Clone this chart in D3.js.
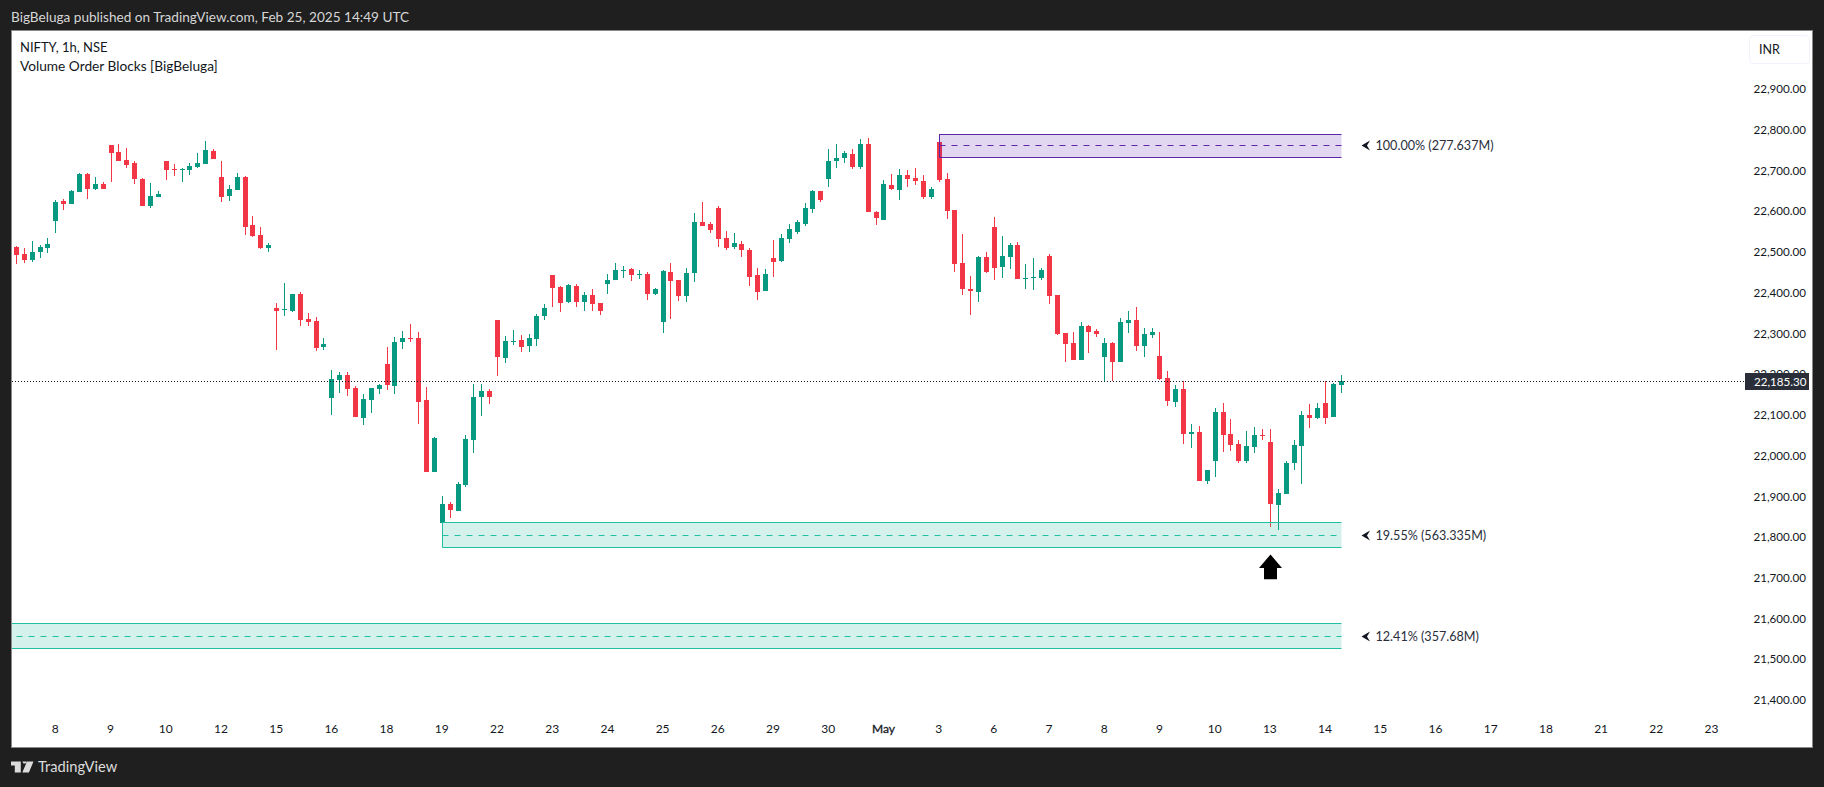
<!DOCTYPE html>
<html><head><meta charset="utf-8">
<script src="https://cdn.jsdelivr.net/npm/d3@7/dist/d3.min.js"></script>
<style>html,body{margin:0;padding:0;background:#1f1f1f;overflow:hidden}svg{display:block}text{font-family:Lato,"Open Sans",sans-serif}</style>
</head><body><svg id="c" width="1824" height="787"></svg>
<script>
const opens=[22515,22498,22483,22503,22513,22579,22628,22621,22650,22694,
22657,22670,22765,22748,22729,22721,22682,22616,22638,22726,
22706.5,22704,22704,22711,22719,22751,22687,22640,22655,22687,
22569,22544.5,22513,22365,22360,22358,22400,22338,22333,22270,
22144,22189,22201,22169,22095,22139.5,22166.5,22228,22174,22282,
22292,22292,22139.5,21963,21838,21884,21867,21931,22041,22147,
22162,22336,22243,22282,22287,22272,22289,22346,22446,22417,
22380,22419,22380,22397,22378,22424,22434,22456,22461,22446,
22449,22400,22331,22454,22434,22395,22451,22576,22571.5,22611,
22537,22515,22522,22508,22446,22407,22488,22481,22535,22552,
22571.5,22608,22652.5,22682,22726,22733.5,22743,22711,22768,22601,
22581,22667,22655,22692,22684,22677,22638,22773,22682,22606,
22476,22412,22405,22490.5,22564,22466,22490.5,22520,22436.5,22439,
22439,22493,22397,22304,22279,22238,22321,22309,22245,22279,
22233,22328.5,22336,22272,22299,22247.5,22193.4,22134.5,22166.5,22056,
22061,21940.6,21989.7,22110,22056,22031.5,21989.7,22024,22053.5,22036.4,
21881.7,21908.7,21984.8,22026.5,22102.6,22095.3,22132,22097.7,22176.3];
const highs=[22517.5,22513,22530,22520,22537,22630,22633,22655,22697,22697,
22687,22675,22765,22768,22758,22726,22684,22672,22652.5,22726,
22719,22709,22721,22746,22775,22756,22726,22667,22697,22689,
22591,22564,22525,22377.6,22427,22400,22405,22353,22343,22292,
22213,22208,22208,22174,22154,22169,22179,22270,22294,22309,
22326,22306,22171,22049,21904,21889,21938,22054,22179,22179,
22166.5,22336,22297,22311,22299,22301.5,22351,22375,22446,22419,
22424,22424,22405,22412,22378,22449,22476,22468,22463.5,22459,
22454,22414,22459,22476,22434,22463.5,22598.5,22625.5,22576,22616,
22554,22549,22530,22513,22463.5,22461,22532,22547,22571.5,22581,
22623,22655,22652.5,22755.6,22768,22751,22755.6,22780,22782.6,22603,
22679.5,22694,22706.5,22704,22709,22692,22662,22793,22697,22606,
22547,22444,22493,22503,22589,22542,22525,22527,22473,22488,
22463.5,22498,22397,22304,22306,22331,22323.5,22314,22291.6,22282,
22341,22358,22368,22316,22316,22306,22210.6,22176,22186,22080.5,
22075.6,21967.6,22119.8,22132,22092.8,22041.3,22063.4,22073,22068.3,22068.3,
21921,21989.7,22041.3,22112.5,22129.6,22132,22186,22181.2,22200.8];
const lows=[22473,22476,22478,22488,22500,22549,22606,22621,22650,22633,
22655,22657,22675,22726,22709,22670,22616,22611,22638,22679.5,
22689,22675,22692,22709,22719,22731,22625.5,22628,22655,22544.5,
22540,22510,22503,22263,22346.5,22355.5,22321,22321,22260,22262,
22103,22157,22149,22098,22078,22108,22154,22164,22154,22265,
22282,22081,21963,21963,21838,21850,21867,21926,22009,22100,
22130,22198,22230,22274.5,22257,22257,22272,22336,22368,22355.5,
22378,22368,22358,22358,22348,22400,22434,22439,22432,22436.5,
22385,22397,22304,22338,22382.5,22380,22429,22566.6,22549,22515,
22508,22510,22490.5,22419,22385,22407,22441,22478,22525,22547,
22566.6,22598.5,22625.5,22662,22709,22721,22706.5,22706.5,22601,22569,
22581,22655,22630,22662,22667,22633,22633,22675,22584,22454,
22397,22348,22380,22451,22434,22439,22461,22436.5,22412,22409.5,
22434,22375,22299,22233,22238,22238,22255,22294,22185,22185,
22233,22304,22260,22245,22291.6,22188.5,22124.7,22122,22031.5,22021.6,
21940.6,21933,21950.4,22011.8,22014.3,21984.8,21984.8,22009.4,22041.3,21827.7,
21820.3,21908.7,21967.6,21933,22070.7,22092.8,22080.5,22097.7,22156.6];
const closes=[22495,22483,22503,22515,22522,22625.5,22621,22652.5,22694,22657,
22670,22657,22746,22726,22716,22682,22616,22640,22645,22704,
22704,22706.5,22714,22721,22753,22731,22638,22657,22687,22564,
22542,22513,22520,22358,22363,22400,22336,22331,22267,22277,
22191,22201,22166.5,22098,22142,22169,22176,22176,22282,22292,
22289,22135,21963,22046,21884,21869.5,21933,22044,22147,22162,
22147,22245,22284,22284,22270,22292,22346,22365,22414,22378,
22422,22380,22397,22375,22358,22434,22459,22459,22446,22449,
22400,22412,22456,22432,22395,22451,22576,22566.6,22557,22535,
22513,22525,22508,22441,22405,22449,22478,22537,22559,22576,
22611,22652.5,22630,22726,22733.5,22746,22711,22768,22601,22586,
22670,22657,22692,22682,22677,22638,22657,22679.5,22603,22473,
22412,22407,22490.5,22454,22463.5,22493,22520,22436.5,22439,22441,
22459,22395,22301.5,22277,22238,22321,22306,22301.5,22279,22233,
22331,22336,22272,22301.5,22306,22191,22137,22166,22056,22061,
21940.6,21967.6,22110,22053.5,22029,21989.7,22026.5,22053.5,22051,21884,
21911,21984.8,22029,22102.6,22095.3,22119.8,22095.3,22178.7,22185.3];

const dayLabels=["8","9","10","12","15","16","18","19","22","23","24","25","26","29","30","May","3","6","7","8","9","10","13","14","15","16","17","18","21","22","23"];
const priceTicks=[21400,21500,21600,21700,21800,21900,22000,22100,22200,22300,22400,22500,22600,22700,22800,22900];
const lastPrice=22185.30;
const blockNames=["bull1","bear1","bull2"];
const blockStart=[54,117,-3];
const blockEnd=[168,168,168];
const blockTop=[21839,22793,21591];
const blockMid=[21808,22765,21560];
const blockBottom=[21778,22735,21530];
const blockKind=["bull","bear","bull"];
const blockLabel=["19.55% (563.335M)","100.00% (277.637M)","12.41% (357.68M)"];
const arrowIndex=159, arrowTipPrice=21760;

const BG="#1f1f1f",UP="#089981",DOWN="#f23645",INK="#131722";
const svg=d3.select("#c");
const L=12,T=31,R=1812,B=747;
const x=d3.scaleLinear().domain([0,215]).range([16.4,1712.0]);
const y=d3.scaleLinear().domain([22900,21400]).range([90.2,701.2]);

svg.append("rect").attr("x",L-.5).attr("y",T-.5).attr("width",R-L+1).attr("height",B-T+1).attr("fill","#fff").attr("stroke","#8a8a8a").attr("stroke-width",1);
svg.append("text").attr("x",11).attr("y",22).attr("fill","#d6d6d6").attr("font-size",13.6).text("BigBeluga published on TradingView.com, Feb 25, 2025 14:49 UTC");
svg.append("text").attr("x",20).attr("y",52).attr("fill",INK).attr("font-size",13).text("NIFTY, 1h, NSE");
svg.append("text").attr("x",20).attr("y",71).attr("fill",INK).attr("font-size",13.7).text("Volume Order Blocks [BigBeluga]");

svg.append("clipPath").attr("id","pane").append("rect").attr("x",L).attr("y",T).attr("width",1733).attr("height",B-T);
const pane=svg.append("g").attr("clip-path","url(#pane)");
const px=i=>Math.floor(x(i));

// candles
const idx=d3.range(opens.length);
const col=i=>closes[i]>=opens[i]?UP:DOWN;
const cg=pane.append("g").attr("shape-rendering","crispEdges");
cg.selectAll(".w").data(idx).join("rect").attr("class","w")
 .attr("x",i=>px(i)).attr("width",1)
 .attr("y",i=>Math.round(y(highs[i]))).attr("height",i=>Math.max(1,Math.round(y(lows[i]))-Math.round(y(highs[i]))))
 .attr("fill",col);
cg.selectAll(".b").data(idx).join("rect").attr("class","b")
 .attr("x",i=>px(i)-2).attr("width",5)
 .attr("y",i=>Math.round(y(Math.max(opens[i],closes[i]))))
 .attr("height",i=>Math.max(1,Math.round(y(Math.min(opens[i],closes[i])))-Math.round(y(Math.max(opens[i],closes[i])))))
 .attr("fill",col);

// order blocks
const blockStyle={bull:{strong:"#22bfa3",f:"rgba(34,178,150,0.19)"},bear:{strong:"#5e27a8",f:"rgba(103,40,183,0.19)"}};
blockNames.forEach((n,k)=>{
  const st=blockStyle[blockKind[k]];
  const x0=Math.floor(x(blockStart[k]))+.5,x1=Math.floor(x(blockEnd[k]))+.5;
  const yt=Math.round(y(blockTop[k]))+.5,yb=Math.round(y(blockBottom[k]))+.5,ym=Math.round(y(blockMid[k]))+.5;
  const g=pane.append("g").attr("class",n);
  g.append("rect").attr("x",x0).attr("y",yt).attr("width",x1-x0).attr("height",yb-yt).attr("fill",st.f);
  g.append("line").attr("x1",x0).attr("x2",x1).attr("y1",yt).attr("y2",yt).attr("stroke",st.strong);
  g.append("line").attr("x1",x0).attr("x2",x1).attr("y1",yb).attr("y2",yb).attr("stroke",st.strong);
  g.append("line").attr("x1",x0).attr("x2",x0).attr("y1",yt).attr("y2",yb).attr("stroke",st.strong);
  g.append("line").attr("x1",x0).attr("x2",x1).attr("y1",ym).attr("y2",ym).attr("stroke",st.strong).attr("stroke-dasharray","6 6");
  g.append("path").attr("d",`M${x1+20},${ym}l8.5,-5l-3,5l3,5z`).attr("fill",INK);
  g.append("text").attr("x",x1+34).attr("y",ym+4.5).attr("font-size",12.6).attr("fill","#2a2e39").text(blockLabel[k]);
});

// last price line
pane.append("line").attr("x1",L).attr("x2",1745).attr("y1",Math.floor(y(lastPrice))+.5).attr("y2",Math.floor(y(lastPrice))+.5)
  .attr("stroke",INK).attr("stroke-dasharray","1 2");

// arrow annotation
const ax=px(arrowIndex)+.5, ay=y(arrowTipPrice);
svg.append("path").attr("d",`M${ax},${ay}l11.5,13.5h-5v11.3h-13v-11.3h-5z`).attr("fill","#000");

// axes
const xAxis=d3.axisBottom(x).tickValues(dayLabels.map((d,i)=>5+i*7)).tickFormat((d,i)=>dayLabels[i]).tickSize(0).tickPadding(0);
const gx=svg.append("g").attr("transform","translate(-1,724)").call(xAxis);
gx.select(".domain").remove();
gx.selectAll("text").attr("font-size",12).attr("font-family","Lato").attr("fill",INK)
  .attr("stroke",(d,i)=>dayLabels[i]==="May"?INK:"none").attr("stroke-width",.3).attr("dy",".72em").attr("y",0);

const yAxis=d3.axisRight(y).tickValues(priceTicks).tickFormat(d3.format(",.2f")).tickSize(0).tickPadding(0);
const gy=svg.append("g").attr("transform","translate(1753.5,-1.2)").call(yAxis);
gy.select(".domain").remove();
gy.selectAll("text").attr("font-size",11.6).attr("font-family","Lato").attr("fill",INK);

// INR button
svg.append("rect").attr("x",1749.5).attr("y",35.5).attr("width",60).attr("height",28).attr("rx",4).attr("fill","#fff").attr("stroke","#f0f3fa");
svg.append("text").attr("x",1759).attr("y",53.5).attr("font-size",12.5).attr("fill",INK).text("INR");

// price tag
svg.append("rect").attr("x",1745).attr("y",373).attr("width",64).attr("height",17).attr("fill","#2a2e39").attr("shape-rendering","crispEdges");
svg.append("text").attr("x",1754).attr("y",385.5).attr("font-size",11.6).attr("fill","#fff").text(d3.format(",.2f")(lastPrice));

// TradingView logo
svg.append("path").attr("fill","#dcdcdc").attr("d","M11,761.5h9.8v11h-6v-7h-3.8z M22.5,761.5h4.2a2.1,2.1 0 1 1 -4.2,0z M27,761.5h6.5l-4.6,11h-6.6z");
svg.append("text").attr("x",38).attr("y",772).attr("font-size",14.7).attr("fill","#dcdcdc").text("TradingView");
</script></body></html>
